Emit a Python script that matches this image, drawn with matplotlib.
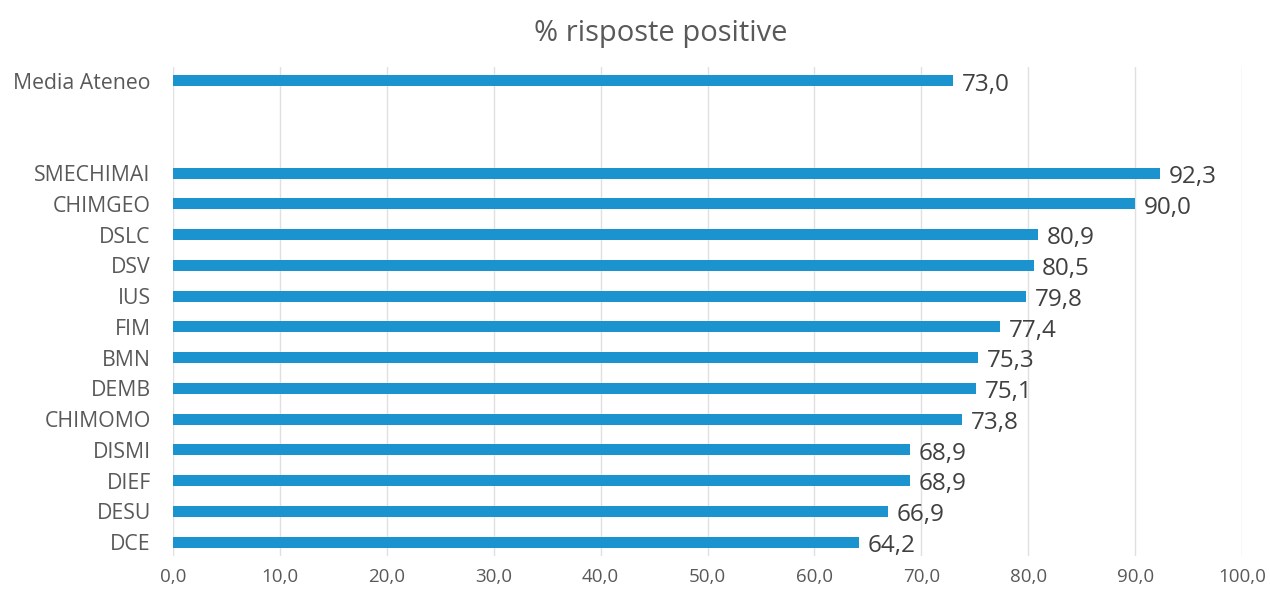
import numpy as np
import matplotlib.pyplot as plt

plt.rcParams['font.family'] = ['Open Sans', 'DejaVu Sans']

categories = ['DCE', 'DESU', 'DIEF', 'DISMI', 'CHIMOMO', 'DEMB', 'BMN', 'FIM',
              'IUS', 'DSV', 'DSLC', 'CHIMGEO', 'SMECHIMAI']
values = [64.2, 66.9, 68.9, 68.9, 73.8, 75.1, 75.3, 77.4, 79.8, 80.5, 80.9, 90.0, 92.3]
media_label = 'Media Ateneo'
media_value = 73.0
title = '% risposte positive'

labels = categories + ['', '', media_label]
vals = values + [np.nan, np.nan, media_value]
pos = np.arange(len(labels))

grey = '#595959'
blue = '#1b93cf'

fig = plt.figure(figsize=(12.7, 5.94), dpi=100)
ax = fig.add_axes([0.1362, 0.064, 0.978 - 0.1362, 0.823])

ax.barh(pos, vals, height=0.36, color=blue, zorder=3)
for p, v in zip(pos, vals):
    if np.isnan(v):
        continue
    ax.text(v + 0.8, p - 0.12, f'{v:.1f}'.replace('.', ','), va='center', ha='left',
            fontsize=17.5, color='#404040')

ax.set_xlim(0, 100)
ax.set_ylim(-0.45, 15.45)
ax.set_xticks(np.arange(0, 101, 10))
ax.set_xticklabels([f'{t:.1f}'.replace('.', ',') for t in np.arange(0, 101, 10)],
                   fontsize=13.5, color=grey)
ax.set_yticks([p for p, l in zip(pos, labels) if l])
ax.set_yticklabels([l for l in labels if l], fontsize=15.3, color=grey)
ax.tick_params(axis='y', length=0, pad=16)
ax.tick_params(axis='x', length=0, pad=9)
ax.grid(axis='x', color='#e0e0e0', linewidth=1, zorder=0)
for s in ax.spines.values():
    s.set_visible(False)

fig.text(0.52, 0.944, title, ha='center', va='center', fontsize=21, color=grey)

fig.savefig('out.png', dpi=100)
